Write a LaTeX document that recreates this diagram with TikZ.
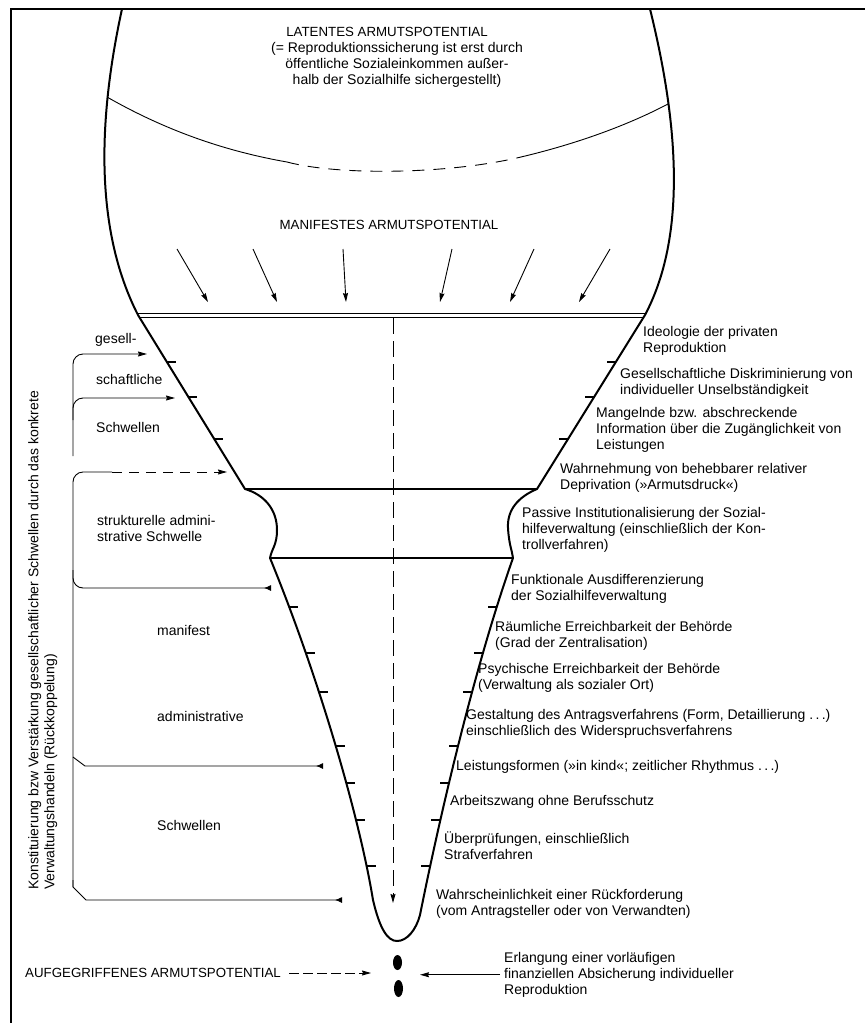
\documentclass[tikz,border=0pt]{standalone}
\usepackage{fontspec}
\setmainfont{Liberation Sans}
\usetikzlibrary{arrows.meta, intersections, positioning}
\tikzset{
    x=1pt, y=-1pt, % coordinates as in the scanned page, y grows downwards
    >={Stealth[length=9pt, width=5pt, inset=1pt]}, % narrow filled arrow heads
    outline/.style={line width=2pt, line join=round}, % contour of the bulb and the funnel
    thin/.style={line width=0.9pt}, % brackets, arcs and arrows
    tick/.style={line width=1.1pt}, % the small marks on the funnel
    label/.style={font=\fontsize{14}{16}\selectfont, align=left, anchor=north west, inner sep=0pt}, % the texts
    caps/.style={font=\fontsize{13.3}{16}\selectfont, inner sep=0pt}, % the capital headings
    back tip/.style={-{Latex[reversed, length=7pt, width=6pt]}}, % the wedge ends on the left
}
\begin{document}
\begin{tikzpicture}
    \useasboundingbox (0,0) rectangle (865,1023);
    \draw[line width=1.2pt] (11,1023) -- (11,9) -- (865,9);

    \draw[outline, name path=funnel]
        (122,9) .. controls (100,110) and (92,225) .. (138,315)
        -- (245,489)
        .. controls (265,495) and (277,510) .. (277,530)
        .. controls (277,545) and (272,548) .. (270,558)
        .. controls (320,680) and (360,820) .. (373,900)
        .. controls (380,930) and (388,941) .. (397,941)
        .. controls (407,941) and (416,930) .. (420,915)
        .. controls (435,840) and (470,680) .. (513,558)
        .. controls (512,550) and (509,545) .. (508,528)
        .. controls (507,510) and (518,497) .. (537,489)
        -- (645,315)
        .. controls (690,230) and (675,110) .. (650,9);
    \draw[outline] (245,489) -- (537,489) (270,558) -- (513,558);
    \draw[thin] (137,313) -- (646,313) (139,317) -- (644,317);
    \foreach \y in {362, 397, 439, 607, 653, 692, 746, 783, 820, 866} {
        \path[name path=level] (0,\y) -- (865,\y);
        \draw[tick, name intersections={of=funnel and level, sort by=level}]
            (intersection-1) -- ++(9,0) (intersection-2) -- ++(-9,0);
    }

    \draw[thin] (107,97) .. controls (170,133) and (230,152) .. (287,162);
    \draw[thin, dash pattern=on 12pt off 9pt] (287,162) .. controls (340,176) and (450,174) .. (521,157);
    \draw[thin] (521,157) .. controls (580,143) and (630,124) .. (668,104);

    \node[caps] (latent) at (387,32) {LATENTES ARMUTSPOTENTIAL};
    \node[label, align=center, anchor=north] (note) at (397,42) {(= Reproduktionssicherung ist erst durch\\öffentliche Sozialeinkommen außer-\\halb der Sozialhilfe sichergestellt)};
    \node[caps] (manifest) at (389,225) {MANIFESTES ARMUTSPOTENTIAL};
    \foreach \xa/\xb in {177/208, 253/277, 343/346, 452/440, 534/510, 610/579}
        \draw[thin, ->] (\xa,249) -- (\xb,302);
    \draw[thin, ->, dash pattern=on 16pt off 7pt] (393,318) -- (393,903);

    \node[label] (r1) at (643,326) {Ideologie der privaten\\Reproduktion};
    \node[label] (r2) at (620,368) {Gesellschaftliche Diskriminierung von\\individueller Unselbständigkeit};
    \node[label] (r3) at (596,407) {Mangelnde bzw. abschreckende\\Information über die Zugänglichkeit von\\Leistungen};
    \node[label] (r4) at (560,463) {Wahrnehmung von behebbarer relativer\\Deprivation (»Armutsdruck«)};
    \node[label] (r5) at (522,507) {Passive Institutionalisierung der Sozial-\\hilfeverwaltung (einschließlich der Kon-\\trollverfahren)};
    \node[label] (r6) at (511,574) {Funktionale Ausdifferenzierung\\der Sozialhilfeverwaltung};
    \node[label] (r7) at (495,621) {Räumliche Erreichbarkeit der Behörde\\(Grad der Zentralisation)};
    \node[label] (r8) at (478,663) {Psychische Erreichbarkeit der Behörde\\(Verwaltung als sozialer Ort)};
    \node[label] (r9) at (466,709) {Gestaltung des Antragsverfahrens (Form, Detaillierung .\,.\,.)\\einschließlich des Widerspruchsverfahrens};
    \node[label] (r10) at (456,760) {Leistungsformen (»in kind«; zeitlicher Rhythmus .\,.\,.)};
    \node[label] (r11) at (450,795) {Arbeitszwang ohne Berufsschutz};
    \node[label] (r12) at (444,832) {Überprüfungen, einschließlich\\Strafverfahren};
    \node[label] (r13) at (436,889) {Wahrscheinlichkeit einer Rückforderung\\(vom Antragsteller oder von Verwandten)};
    \node[label] (r14) at (504,952) {Erlangung einer vorläufigen\\finanziellen Absicherung individueller\\Reproduktion};

    \node[label] (l1) at (95,333) {gesell-};
    \node[label] (l2) at (96,374) {schaftliche};
    \node[label] (l3) at (96,422) {Schwellen};
    \node[label] (l4) at (97,515) {strukturelle admini-\\strative Schwelle};
    \node[label] (l5) at (157,625) {manifest};
    \node[label] (l6) at (157,711) {administrative};
    \node[label] (l7) at (157,820) {Schwellen};
    \node[label, rotate=90] (feedback) at (28,890) {Konstituierung bzw Verstärkung gesellschaftlicher Schwellen durch das konkrete\\Verwaltungshandeln (Rückkoppelung)};

    \draw[thin, rounded corners=10pt, ->] (73,456) -- (73,354) -- (147,354);
    \draw[thin, rounded corners=10pt, ->] (73,420) -- (73,398) -- (175,398);
    \draw[thin, rounded corners=10pt] (73,887) -- (73,472) -- (112,472);
    \draw[thin, ->, dash pattern=on 10pt off 7pt] (112,472) -- (227,472);
    \draw[thin, rounded corners=10pt, back tip] (73,570) -- (73,588) -- (271,588);
    \draw[thin, back tip] (73,757) -- (85,766) -- (323,766);
    \draw[thin, back tip] (73,880) -- (73,887) -- (86,900) -- (342,900);

    \fill (397.5,962.5) ellipse [x radius=4.5pt, y radius=7.5pt];
    \fill (398.5,988.5) ellipse [x radius=4.5pt, y radius=8.5pt];
    \coordinate (dots) at (398,975);
    \node[caps, anchor=west] (aufg) at (25,973) {AUFGEGRIFFENES ARMUTSPOTENTIAL};
    \draw[thin, ->, dash pattern=on 10pt off 4pt, shorten >=27pt] ([xshift=8pt]aufg.east) -- (aufg.east -| dots);
    \draw[thin, ->, shorten >=22pt] ([xshift=-4pt]r14.west) -- (r14.west -| dots);
\end{tikzpicture}
\end{document}
